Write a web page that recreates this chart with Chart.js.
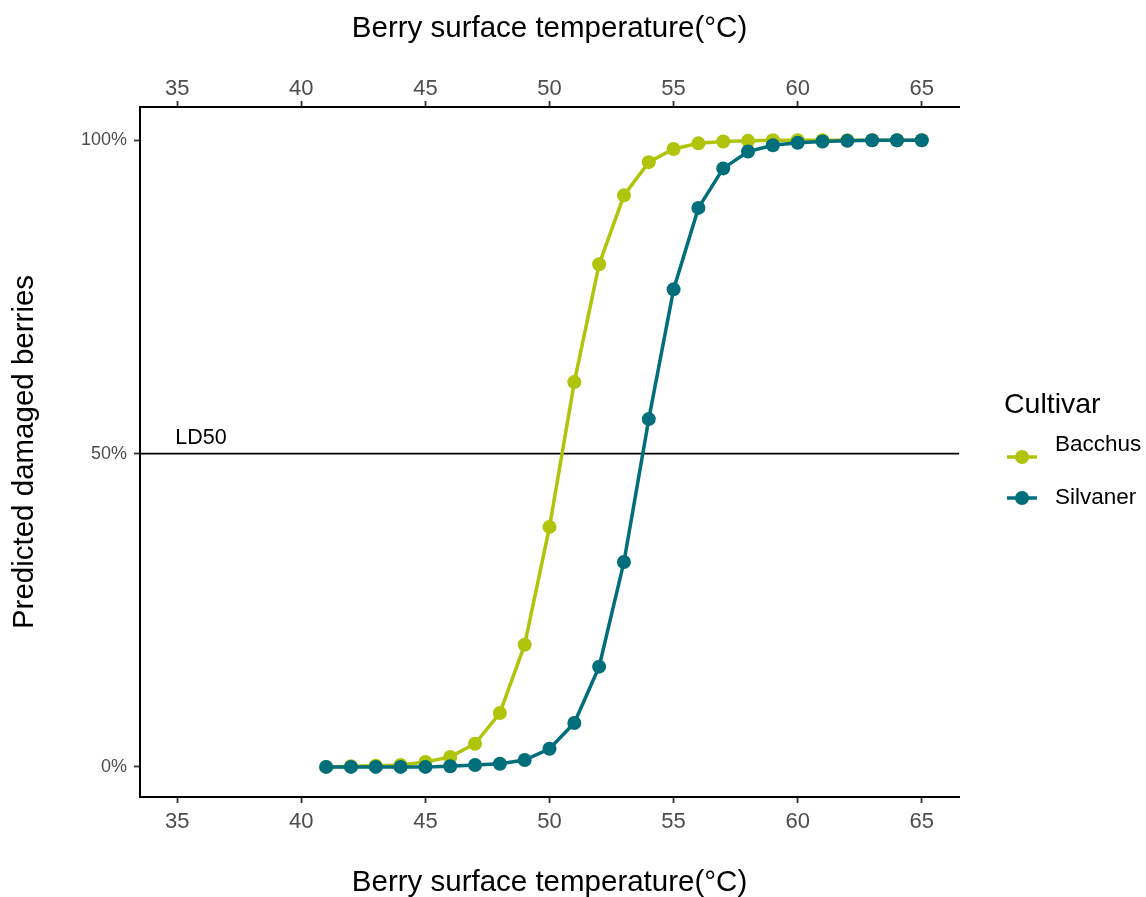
<!DOCTYPE html>
<html>
<head>
<meta charset="utf-8">
<script src="https://cdn.jsdelivr.net/npm/chart.js@4"></script>
<style>
  html, body { margin: 0; padding: 0; background: #fff; }
  #wrap { width: 1146px; height: 897px; }
</style>
</head>
<body>
<div id="wrap"><canvas id="myChart" width="1146" height="897"></canvas></div>
<script>
const temperaturas = [41, 42, 43, 44, 45, 46, 47, 48, 49, 50, 51, 52, 53, 54, 55, 56, 57, 58, 59, 60, 61, 62, 63, 64, 65];
const bacchus = [0.000, 0.001, 0.002, 0.003, 0.008, 0.016, 0.037, 0.086, 0.195, 0.383, 0.614, 0.802, 0.912, 0.965, 0.986, 0.995, 0.998, 0.999, 1.0, 1.0, 1.0, 1.0, 1.0, 1.0, 1.0];
const silvaner = [0.000, 0.000, 0.000, 0.000, 0.000, 0.001, 0.003, 0.005, 0.011, 0.029, 0.070, 0.160, 0.327, 0.555, 0.762, 0.892, 0.955, 0.982, 0.992, 0.996, 0.998, 0.999, 1.0, 1.0, 1.0];
const ticksX = [35, 40, 45, 50, 55, 60, 65];
const ticksY = [0, 0.5, 1];
const cultivares = ["Bacchus", "Silvaner"];
const colores = ["#afc40a", "#006e7b"];

const fuente = "'Liberation Sans', Arial, sans-serif";

function puntos(valores) {
  return temperaturas.map((t, i) => ({ x: t, y: valores[i] }));
}

const lineaLD50 = {
  id: "lineaLD50",
  beforeDatasetsDraw(chart) {
    const { ctx, chartArea, scales } = chart;
    const y = scales.y.getPixelForValue(0.5);
    ctx.save();
    ctx.strokeStyle = "#000";
    ctx.lineWidth = 1.8;
    ctx.beginPath();
    ctx.moveTo(chartArea.left, y);
    ctx.lineTo(chartArea.right, y);
    ctx.stroke();
    ctx.fillStyle = "#000";
    ctx.font = "21.5px " + fuente;
    ctx.textAlign = "left";
    ctx.textBaseline = "alphabetic";
    ctx.fillText("LD50", scales.x.getPixelForValue(35) - 2, y - 10);
    ctx.restore();
  }
};

const leyenda = {
  id: "leyenda",
  afterDraw(chart) {
    const ctx = chart.ctx;
    ctx.save();
    ctx.fillStyle = "#000";
    ctx.font = "28.5px " + fuente;
    ctx.textBaseline = "middle";
    ctx.textAlign = "left";
    ctx.fillText("Cultivar", 1004, 405);
    const filas = [{ sy: 457, ty: 445 }, { sy: 498, ty: 498 }];
    cultivares.forEach((nombre, i) => {
      const f = filas[i];
      ctx.strokeStyle = colores[i];
      ctx.lineWidth = 3.5;
      ctx.beginPath();
      ctx.moveTo(1007, f.sy);
      ctx.lineTo(1037, f.sy);
      ctx.stroke();
      ctx.fillStyle = colores[i];
      ctx.beginPath();
      ctx.arc(1022, f.sy, 7, 0, Math.PI * 2);
      ctx.fill();
      ctx.fillStyle = "#000";
      ctx.font = "22.5px " + fuente;
      ctx.fillText(nombre, 1055, f.ty);
    });
    ctx.restore();
  }
};

const ejeX = (posicion, alto) => ({
  type: "linear",
  position: posicion,
  min: 33.5,
  max: 66.5,
  afterBuildTicks: (eje) => { eje.ticks = ticksX.map(v => ({ value: v })); },
  afterFit: (eje) => { eje.height = alto; },
  border: { display: true, color: "#000", width: 2 },
  grid: { drawOnChartArea: false, drawTicks: true, tickLength: 6, tickColor: "#333", tickWidth: 1.8 },
  ticks: { color: "#4d4d4d", font: { family: fuente, size: 22 }, padding: posicion === "top" ? -1 : 6, maxRotation: 0 },
  title: {
    display: true,
    text: "Berry surface temperature(°C)",
    color: "#000",
    font: { family: fuente, size: 29.5 },
    padding: posicion === "top" ? { top: 11, bottom: 0 } : { top: 0, bottom: -4 }
  }
});

new Chart(document.getElementById("myChart"), {
  type: "line",
  data: {
    datasets: cultivares.map((nombre, i) => ({
      label: nombre,
      data: puntos(i === 0 ? bacchus : silvaner),
      borderColor: colores[i],
      backgroundColor: colores[i],
      borderWidth: 3.5,
      pointRadius: 7,
      pointHoverRadius: 7,
      pointBorderWidth: 0,
      tension: 0,
      order: i === 0 ? 2 : 1,
      xAxisID: "x",
      yAxisID: "y"
    }))
  },
  options: {
    responsive: false,
    animation: false,
    devicePixelRatio: 1,
    layout: { padding: { left: 0, right: 187, top: 0, bottom: 0 } },
    plugins: {
      legend: { display: false },
      tooltip: { enabled: false }
    },
    scales: {
      x: ejeX("bottom", 100),
      x2: ejeX("top", 107),
      y: {
        type: "linear",
        min: -0.048,
        max: 1.053,
        afterBuildTicks: (eje) => { eje.ticks = ticksY.map(v => ({ value: v })); },
        afterFit: (eje) => { eje.width = 140; },
        border: { display: true, color: "#000", width: 2 },
        grid: { drawOnChartArea: false, drawTicks: true, tickLength: 6, tickColor: "#333", tickWidth: 1.8 },
        ticks: {
          color: "#4d4d4d",
          font: { family: fuente, size: 18 },
          padding: 7,
          callback: (v) => Math.round(v * 100) + "%"
        },
        title: {
          display: true,
          text: "Predicted damaged berries",
          color: "#000",
          font: { family: fuente, size: 29.5 },
          padding: { top: 7, bottom: 0 }
        }
      }
    }
  },
  plugins: [lineaLD50, leyenda]
});
</script>
</body>
</html>
